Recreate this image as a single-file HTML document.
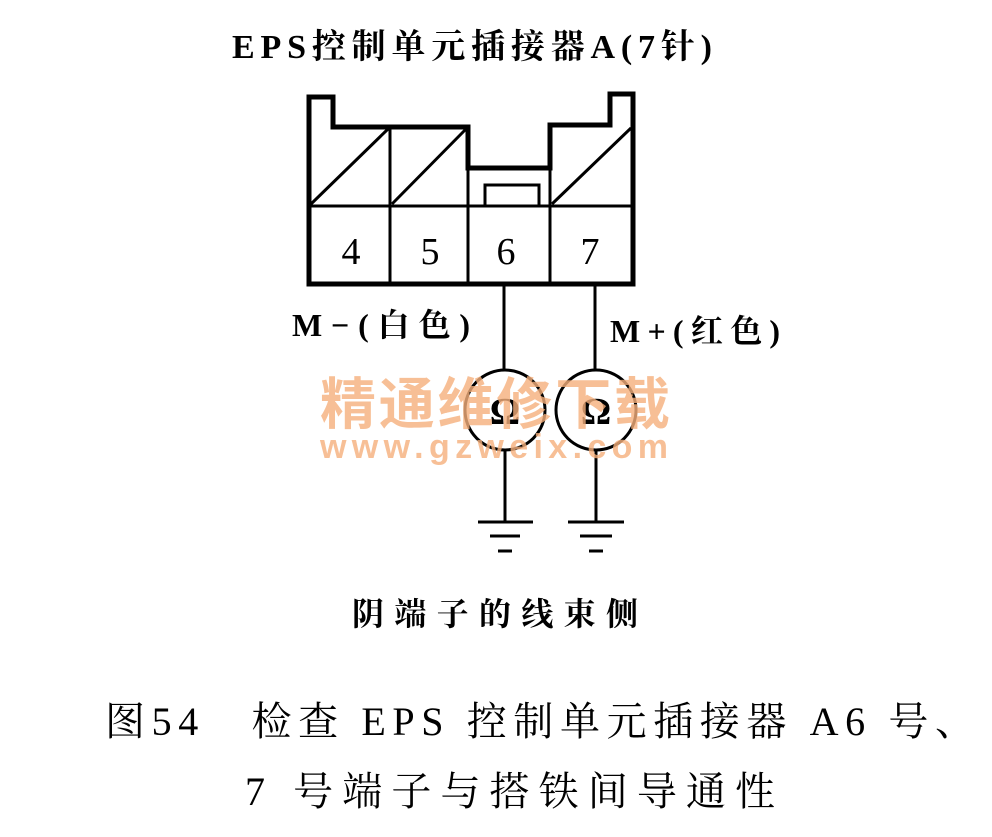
<!DOCTYPE html><html><head><meta charset="utf-8"><style>
body{margin:0;width:992px;height:837px;background:#fff;overflow:hidden}
</style></head><body>
<svg width="992" height="837" xmlns="http://www.w3.org/2000/svg" style="position:absolute;left:0;top:0">
<g fill="none" stroke="#000" stroke-width="5">
<path d="M309,284 L309,97 L333,97 L333,127 L468,127 L468,168 L550,168 L550,125 L610,125 L610,94 L633,94 L633,284 Z"/>
</g>
<g stroke="#000" stroke-width="3" fill="none">
<line x1="309" y1="206" x2="633" y2="206"/>
<line x1="390" y1="127" x2="390" y2="284"/>
<line x1="468" y1="168" x2="468" y2="284"/>
<line x1="550" y1="168" x2="550" y2="284"/>
<line x1="311" y1="204" x2="388" y2="129"/>
<line x1="392" y1="204" x2="466" y2="129"/>
<line x1="552" y1="204" x2="631" y2="128"/>
<path d="M485,205 L485,185 L539,185 L539,205"/>
<line x1="504" y1="286" x2="504" y2="370"/>
<line x1="595" y1="286" x2="595" y2="370"/>
<circle cx="505" cy="410" r="40"/>
<circle cx="596" cy="410" r="40"/>
<line x1="505" y1="450" x2="505" y2="522"/>
<line x1="596" y1="450" x2="596" y2="522"/>
<line x1="478" y1="522" x2="533" y2="522"/>
<line x1="490" y1="536" x2="520" y2="536"/>
<line x1="498" y1="551" x2="512" y2="551"/>
<line x1="568" y1="522" x2="624" y2="522"/>
<line x1="580" y1="536" x2="612" y2="536"/>
<line x1="589" y1="551" x2="603" y2="551"/>
</g>
<g font-family="Liberation Serif, Noto Serif CJK SC, serif" fill="#000" text-anchor="middle">
<text x="351" y="264" font-size="38">4</text>
<text x="430" y="264" font-size="38">5</text>
<text x="506" y="264" font-size="38">6</text>
<text x="590" y="264" font-size="38">7</text>
<text x="505" y="424" font-size="38" font-weight="bold">Ω</text>
<text x="596" y="424" font-size="38" font-weight="bold">Ω</text>
</g>
<g fill="#f6b07c" font-family="Liberation Sans, Noto Sans CJK SC, sans-serif" font-weight="bold" opacity="0.8">
<text x="320" y="424" font-size="56" textLength="350">精通维修下载</text>
<text x="320" y="458" font-size="34" textLength="348">www.gzweix.com</text>
</g>
<g font-family="Liberation Serif, Noto Serif CJK SC, serif" fill="#000" font-weight="bold">
<text x="232" y="58" font-size="34" textLength="480">EPS控制单元插接器A(7针)</text>
<text x="292" y="336" font-size="32" textLength="178">M−(白色)</text>
<text x="610" y="342" font-size="32" textLength="170">M+(红色)</text>
<text x="352" y="625" font-size="32" textLength="286">阴端子的线束侧</text>
</g>
<g font-family="Liberation Serif, Noto Serif CJK SC, serif" fill="#000">
<text x="105" y="735" font-size="40" textLength="870">图54　检查 EPS 控制单元插接器 A6 号、</text>
<text x="245" y="805" font-size="40" textLength="530">7 号端子与搭铁间导通性</text>
</g>
</svg>
</body></html>
